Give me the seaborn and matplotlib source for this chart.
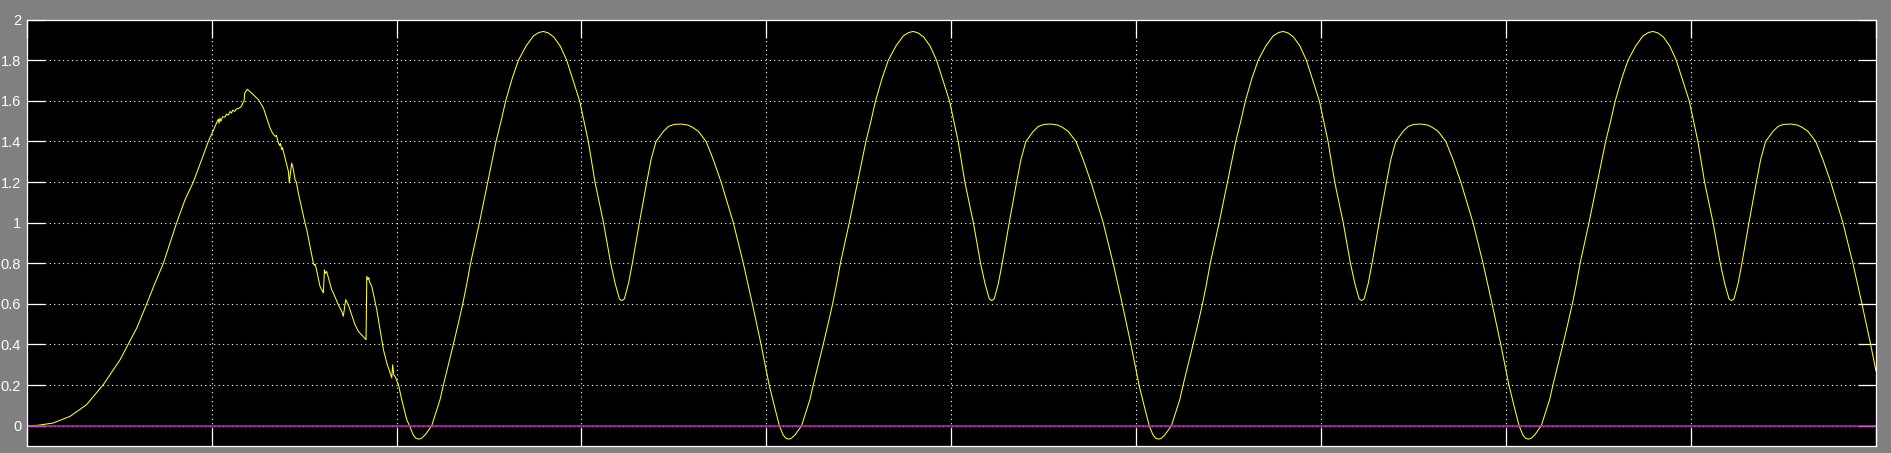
import matplotlib
matplotlib.use("Agg")
import matplotlib.pyplot as plt
import numpy as np
import pandas as pd
import seaborn as sns

# ---------------- data ----------------
# start-up transient (time, value)
t_startup = [0.0, 0.06, 0.142, 0.234, 0.323, 0.414, 0.505, 0.595, 0.649, 0.694,
             0.739, 0.811, 0.856, 0.901, 0.946, 0.982, 1.012, 1.03, 1.036, 1.04,
             1.045, 1.05, 1.06, 1.072, 1.08, 1.09, 1.10, 1.107, 1.115, 1.125,
             1.134, 1.15, 1.161, 1.17, 1.175, 1.179, 1.193, 1.217, 1.253, 1.28,
             1.316, 1.33, 1.343, 1.35, 1.361, 1.368, 1.372, 1.379, 1.383, 1.388,
             1.415, 1.42, 1.428, 1.433, 1.44, 1.451, 1.458, 1.469, 1.505, 1.514,
             1.55, 1.555, 1.56, 1.565, 1.586, 1.604, 1.61, 1.615, 1.622, 1.649,
             1.658, 1.685, 1.705, 1.712, 1.725, 1.739, 1.775, 1.793, 1.835, 1.839,
             1.845, 1.85, 1.853, 1.866, 1.893, 1.929, 1.95, 1.958, 1.965, 1.974,
             1.979, 1.985, 1.992, 2.01, 2.028, 2.055]
y_startup = [0.0, 0.002, 0.013, 0.046, 0.103, 0.202, 0.325, 0.481, 0.6, 0.703,
             0.8, 1.0, 1.113, 1.2, 1.31, 1.4, 1.46, 1.499, 1.51, 1.49,
             1.515, 1.50, 1.522, 1.52, 1.535, 1.53, 1.548, 1.54, 1.555, 1.548,
             1.56, 1.565, 1.573, 1.593, 1.595, 1.638, 1.657, 1.638, 1.606, 1.565,
             1.466, 1.44, 1.425, 1.43, 1.393, 1.38, 1.39, 1.36, 1.37, 1.351,
             1.253, 1.196, 1.26, 1.294, 1.27, 1.212, 1.20, 1.146, 0.998, 0.966,
             0.801, 0.79, 0.795, 0.777, 0.686, 0.654, 0.768, 0.75, 0.76, 0.67,
             0.654, 0.596, 0.56, 0.539, 0.621, 0.596, 0.498, 0.465, 0.424, 0.736,
             0.72, 0.73, 0.711, 0.686, 0.571, 0.374, 0.30, 0.28, 0.26, 0.235,
             0.30, 0.25, 0.243, 0.202, 0.128, 0.03]

t_cycle1 = [2.07, 2.09, 2.105, 2.12, 2.135, 2.155, 2.19, 2.235, 2.253, 2.28,
            2.307, 2.333, 2.358, 2.38, 2.40, 2.448, 2.493, 2.538, 2.565, 2.59,
            2.625, 2.659, 2.70, 2.74, 2.77, 2.794, 2.82, 2.85, 2.885, 2.92,
            2.955, 2.99, 3.037, 3.073, 3.119, 3.158, 3.182, 3.205, 3.218, 3.232,
            3.254, 3.275, 3.313, 3.353, 3.376, 3.403, 3.443, 3.47, 3.50, 3.539,
            3.575, 3.60, 3.632, 3.674, 3.713, 3.755, 3.821, 3.875, 3.924, 3.971,
            4.015, 4.042]
y_cycle1 = [0.0, -0.045, -0.062, -0.066, -0.062, -0.045, 0.0, 0.128, 0.2, 0.3,
            0.4, 0.5, 0.6, 0.7, 0.8, 1.0, 1.2, 1.4, 1.5, 1.6,
            1.71, 1.8, 1.87, 1.92, 1.937, 1.942, 1.935, 1.915, 1.87, 1.8,
            1.7, 1.6, 1.4, 1.2, 1.0, 0.8, 0.7, 0.625, 0.616, 0.625,
            0.7, 0.8, 1.0, 1.2, 1.31, 1.4, 1.45, 1.474, 1.484, 1.486,
            1.481, 1.47, 1.45, 1.4, 1.31, 1.2, 1.0, 0.8, 0.6, 0.4,
            0.2, 0.1]

t_cycle2 = [4.07, 4.09, 4.105, 4.12, 4.135, 4.155, 4.19, 4.235, 4.253, 4.28,
            4.307, 4.333, 4.358, 4.38, 4.40, 4.448, 4.493, 4.538, 4.565, 4.59,
            4.625, 4.659, 4.70, 4.74, 4.77, 4.794, 4.82, 4.85, 4.885, 4.92,
            4.955, 4.99, 5.037, 5.073, 5.119, 5.158, 5.182, 5.205, 5.218, 5.232,
            5.254, 5.275, 5.313, 5.353, 5.376, 5.403, 5.443, 5.47, 5.50, 5.539,
            5.575, 5.60, 5.632, 5.674, 5.713, 5.755, 5.821, 5.875, 5.924, 5.971,
            6.015, 6.042]
y_cycle2 = [0.0, -0.045, -0.062, -0.066, -0.062, -0.045, 0.0, 0.128, 0.2, 0.3,
            0.4, 0.5, 0.6, 0.7, 0.8, 1.0, 1.2, 1.4, 1.5, 1.6,
            1.71, 1.8, 1.87, 1.92, 1.937, 1.942, 1.935, 1.915, 1.87, 1.8,
            1.7, 1.6, 1.4, 1.2, 1.0, 0.8, 0.7, 0.625, 0.616, 0.625,
            0.7, 0.8, 1.0, 1.2, 1.31, 1.4, 1.45, 1.474, 1.484, 1.486,
            1.481, 1.47, 1.45, 1.4, 1.31, 1.2, 1.0, 0.8, 0.6, 0.4,
            0.2, 0.1]

t_cycle3 = [6.07, 6.09, 6.105, 6.12, 6.135, 6.155, 6.19, 6.235, 6.253, 6.28,
            6.307, 6.333, 6.358, 6.38, 6.40, 6.448, 6.493, 6.538, 6.565, 6.59,
            6.625, 6.659, 6.70, 6.74, 6.77, 6.794, 6.82, 6.85, 6.885, 6.92,
            6.955, 6.99, 7.037, 7.073, 7.119, 7.158, 7.182, 7.205, 7.218, 7.232,
            7.254, 7.275, 7.313, 7.353, 7.376, 7.403, 7.443, 7.47, 7.50, 7.539,
            7.575, 7.60, 7.632, 7.674, 7.713, 7.755, 7.821, 7.875, 7.924, 7.971,
            8.015, 8.042]
y_cycle3 = [0.0, -0.045, -0.062, -0.066, -0.062, -0.045, 0.0, 0.128, 0.2, 0.3,
            0.4, 0.5, 0.6, 0.7, 0.8, 1.0, 1.2, 1.4, 1.5, 1.6,
            1.71, 1.8, 1.87, 1.92, 1.937, 1.942, 1.935, 1.915, 1.87, 1.8,
            1.7, 1.6, 1.4, 1.2, 1.0, 0.8, 0.7, 0.625, 0.616, 0.625,
            0.7, 0.8, 1.0, 1.2, 1.31, 1.4, 1.45, 1.474, 1.484, 1.486,
            1.481, 1.47, 1.45, 1.4, 1.31, 1.2, 1.0, 0.8, 0.6, 0.4,
            0.2, 0.1]

t_cycle4 = [8.07, 8.09, 8.105, 8.12, 8.135, 8.155, 8.19, 8.235, 8.253, 8.28,
            8.307, 8.333, 8.358, 8.38, 8.40, 8.448, 8.493, 8.538, 8.565, 8.59,
            8.625, 8.659, 8.70, 8.74, 8.77, 8.794, 8.82, 8.85, 8.885, 8.92,
            8.955, 8.99, 9.037, 9.073, 9.119, 9.158, 9.182, 9.205, 9.218, 9.232,
            9.254, 9.275, 9.313, 9.353, 9.376, 9.403, 9.443, 9.47, 9.50, 9.539,
            9.575, 9.60, 9.632, 9.674, 9.713, 9.755, 9.821, 9.875, 9.924, 9.971,
            10.0]
y_cycle4 = [0.0, -0.045, -0.062, -0.066, -0.062, -0.045, 0.0, 0.128, 0.2, 0.3,
            0.4, 0.5, 0.6, 0.7, 0.8, 1.0, 1.2, 1.4, 1.5, 1.6,
            1.71, 1.8, 1.87, 1.92, 1.937, 1.942, 1.935, 1.915, 1.87, 1.8,
            1.7, 1.6, 1.4, 1.2, 1.0, 0.8, 0.7, 0.625, 0.616, 0.625,
            0.7, 0.8, 1.0, 1.2, 1.31, 1.4, 1.45, 1.474, 1.484, 1.486,
            1.481, 1.47, 1.45, 1.4, 1.31, 1.2, 1.0, 0.8, 0.6, 0.4,
            0.268]

# reference signal (magenta) held at zero
t_reference = [0.0, 10.0]
y_reference = [0.0, 0.0]

x_ticks = [0, 1, 2, 3, 4, 5, 6, 7, 8, 9, 10]
y_ticks = [0, 0.2, 0.4, 0.6, 0.8, 1.0, 1.2, 1.4, 1.6, 1.8, 2.0]
y_tick_labels = ["0", "0.2", "0.4", "0.6", "0.8", "1", "1.2", "1.4", "1.6", "1.8", "2"]

# ---------------- build frames ----------------
t_all = t_startup + t_cycle1 + t_cycle2 + t_cycle3 + t_cycle4
y_all = y_startup + y_cycle1 + y_cycle2 + y_cycle3 + y_cycle4
assert len(t_all) == len(y_all)
signal = pd.DataFrame({"t": t_all, "v": y_all})
reference = pd.DataFrame({"t": t_reference, "v": y_reference})

sns.set_style("dark")
plt.rcParams["font.family"] = ["Liberation Sans Narrow", "Liberation Sans", "DejaVu Sans"]

fig = plt.figure(figsize=(18.91, 4.53), dpi=100, facecolor="#808080")
ax = fig.add_axes([0.01412, 0.01545, 0.97795, 0.9411])
ax.set_facecolor("black")

sns.lineplot(data=signal, x="t", y="v", ax=ax, color="#ffff20", linewidth=0.75,
             sort=False, estimator=None)
sns.lineplot(data=reference, x="t", y="v", ax=ax, color="#c21fc2", linewidth=1.1,
             sort=False, estimator=None)

ax.set_xlim(0, 10)
ax.set_ylim(-0.1, 2.0)
ax.set_xticks(x_ticks)
ax.set_xticklabels([])
ax.set_yticks(y_ticks)
ax.set_yticklabels(y_tick_labels)
ax.set_xlabel("")
ax.set_ylabel("")
ax.tick_params(axis="both", which="major", direction="in", length=13, width=0.9,
               color="white", top=True, right=True, bottom=True, left=True,
               labelcolor="white", labelsize=10.5, pad=4)
ax.grid(True, color="white", linestyle=(0, (1, 3)), linewidth=0.8)
for s in ax.spines.values():
    s.set_visible(True)
    s.set_color("white")
    s.set_linewidth(0.9)

fig.savefig("out.png", dpi=100, facecolor=fig.get_facecolor())
